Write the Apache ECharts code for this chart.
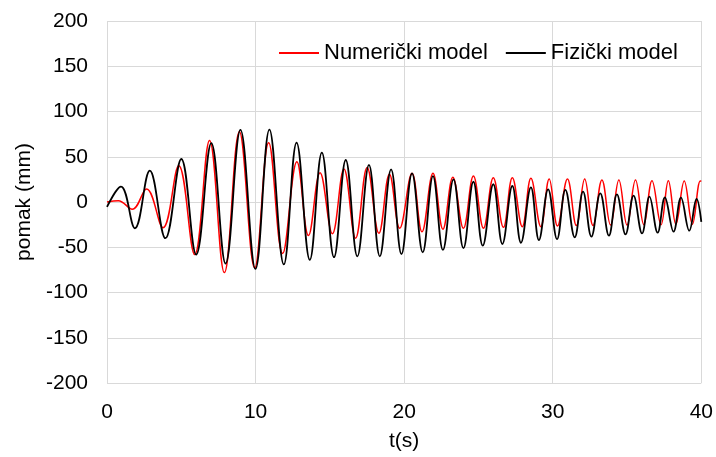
<!DOCTYPE html>
<html><head><meta charset="utf-8">
<script src="https://cdn.jsdelivr.net/npm/echarts@6/dist/echarts.min.js"></script>
<style>html,body{margin:0;padding:0;background:#fff}#c{width:716px;height:457px}</style>
</head><body><div id="c"></div>
<script>
const seriesNames = ['Numerički model', 'Fizički model'];
const xTicks = [0, 10, 20, 30, 40];
const yTicks = [-200, -150, -100, -50, 0, 50, 100, 150, 200];

// Numerički model: extrema (time s, displacement mm)
const numT = [0, 0.76, 1.7, 2.66, 3.77, 4.83, 5.9, 6.9, 7.9, 8.91, 9.94, 10.88, 11.82, 12.78, 13.56, 14.34, 15.17, 15.95, 16.73, 17.51, 18.3, 19.01,
  19.7, 20.53, 21.2, 21.94, 22.61, 23.28, 23.99, 24.66, 25.34, 26.0, 26.68, 27.28, 27.95, 28.53, 29.2, 29.76, 30.32,
  30.99, 31.59, 32.15, 32.71, 33.31, 33.89, 34.45, 35.0, 35.57, 36.13, 36.68, 37.29, 37.78, 38.29, 38.85, 39.4, 39.93, 40];
const numV = [0, 1.5, -8, 14.4, -28.4, 40, -58, 68, -78, 77.7, -73, 65.5, -57, 44.5, -37, 32.4, -35, 36.5, -40, 38, -34.6, 30.6,
  -29, 31.7, -33, 31.7, -30, 27.3, -29, 28.7, -29, 26.9, -28, 26.9, -27.3, 26.2, -27.3, 25.4, -26.5,
  25.4, -26, 25.4, -26, 24.3, -25.5, 24.3, -25.5, 24.3, -25, 23.5, -25, 23.5, -24.5, 23.2, -24.5, 23.2, 23];

// Fizički model
const fizT = [0, 0.94, 1.88, 2.88, 3.93, 5.0, 6.0, 7.02, 7.98, 8.98, 9.99, 10.93, 11.9, 12.76, 13.65, 14.46, 15.28, 16.07, 16.85, 17.63, 18.36, 19.12,
  19.82, 20.53, 21.25, 21.94, 22.61, 23.32, 23.99, 24.66, 25.29, 26.0, 26.61, 27.28, 27.86, 28.53, 29.07, 29.69,
  30.29, 30.85, 31.48, 32.04, 32.6, 33.2, 33.78, 34.32, 34.9, 35.44, 36.01, 36.51, 37.06, 37.55, 38.13, 38.63, 39.19, 39.68, 40];
const fizV = [-5.5, 17, -29, 34.6, -40, 47.5, -58, 65, -68, 79.6, -74, 80, -69, 65.5, -64, 54.5, -61, 46.4, -60, 41, -60, 36,
  -57.5, 31.7, -55.6, 28.7, -53, 25, -51, 22.4, -48.3, 19.6, -46.4, 17.7, -45, 16.2, -42, 14,
  -41, 13.3, -39, 11.4, -38.3, 9.6, -37.2, 8.5, -35.7, 7, -34.6, 5.9, -33.9, 5, -32.8, 4.8, -31.7, 3.3, -22];

const pairs = (t, v) => t.map((x, i) => [x, v[i]]);
const FONT = 'Liberation Sans, Arial, sans-serif';
const chart = echarts.init(document.getElementById('c'), null, {renderer: 'canvas'});
chart.setOption({
  animation: false,
  backgroundColor: '#fff',
  textStyle: {fontFamily: FONT},
  grid: {left: 107, right: 13, top: 21, bottom: 74, containLabel: false},
  legend: {
    left: 274, top: 37, itemWidth: 40, itemHeight: 2, itemGap: 18,
    icon: 'rect',
    data: seriesNames,
    textStyle: {fontFamily: FONT, fontSize: 22, color: '#000'}
  },
  xAxis: {
    type: 'value', min: xTicks[0], max: xTicks[xTicks.length - 1], interval: 10,
    name: 't(s)', nameLocation: 'middle', nameGap: 48,
    nameTextStyle: {fontFamily: FONT, fontSize: 21, color: '#000'},
    axisLine: {show: false}, axisTick: {show: false},
    axisLabel: {fontFamily: FONT, fontSize: 21, color: '#000', margin: 19},
    splitLine: {show: true, lineStyle: {color: '#d9d9d9', width: 1}}
  },
  yAxis: {
    type: 'value', min: yTicks[0], max: yTicks[yTicks.length - 1], interval: 50,
    name: 'pomak (mm)', nameLocation: 'middle', nameGap: 69,
    nameTextStyle: {fontFamily: FONT, fontSize: 21, color: '#000'},
    axisLine: {show: false}, axisTick: {show: false},
    axisLabel: {fontFamily: FONT, fontSize: 21, color: '#000', margin: 19},
    splitLine: {show: true, lineStyle: {color: '#d9d9d9', width: 1}}
  },
  series: [
    {name: seriesNames[0], type: 'line', data: pairs(numT, numV), smooth: 0.4, symbol: 'none',
     lineStyle: {color: '#ff0000', width: 1.5}, itemStyle: {color: '#ff0000'}, z: 2},
    {name: seriesNames[1], type: 'line', data: pairs(fizT, fizV), smooth: 0.4, symbol: 'none',
     lineStyle: {color: '#000000', width: 1.8}, itemStyle: {color: '#000000'}, z: 3}
  ]
});
</script></body></html>
